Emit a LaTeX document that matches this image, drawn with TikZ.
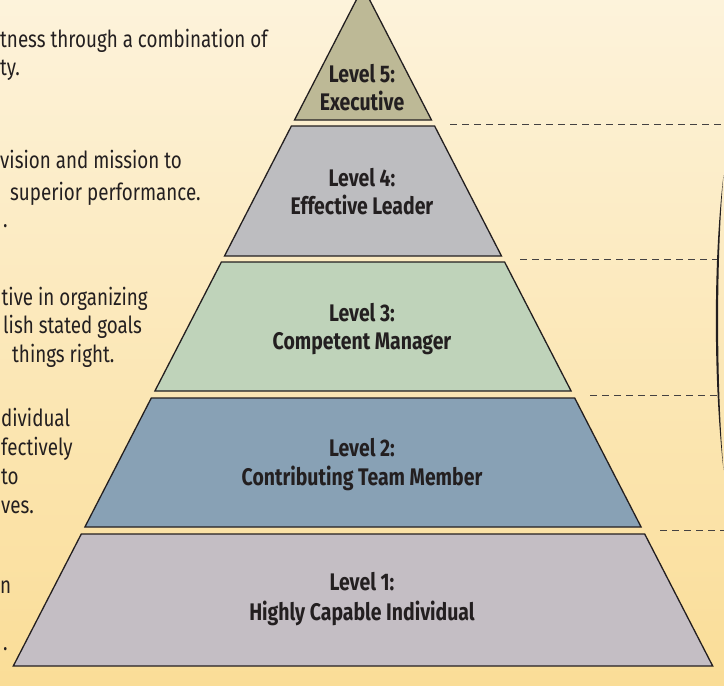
\documentclass[tikz,border=0pt]{standalone}
\usepackage{fontspec}
\setmainfont{Fira Sans}
\newfontfamily\lblfont[FakeStretch=0.81]{Fira Sans}
\newfontfamily\sidefont[FakeStretch=0.8]{Fira Sans}
\definecolor{bgtop}{HTML}{FDF3DB}
\definecolor{bgbot}{HTML}{FADD97}
\definecolor{ink}{HTML}{231F20}
\definecolor{cfive}{HTML}{BDB996}
\definecolor{cfour}{HTML}{BDBDC0}
\definecolor{cthree}{HTML}{BFD3BA}
\definecolor{ctwo}{HTML}{88A1B5}
\definecolor{cone}{HTML}{C4BEC4}
\tikzset{
  tier/.style={draw=ink, line width=1.3pt, line join=miter},
  lvl/.style={anchor=base, font=\lblfont\bfseries\fontsize{24}{28}\selectfont, text=ink, inner sep=0pt},
  side/.style={anchor=base west, font=\sidefont\fontsize{23.5}{28}\selectfont, text=ink, inner sep=0pt},
  guide/.style={draw=ink!85, line width=1pt, dash pattern=on 7pt off 5pt}
}
\begin{document}
\begin{tikzpicture}[x=1pt,y=-1pt]
\useasboundingbox (0,0) rectangle (724,686);
\shade[top color=bgtop, bottom color=bgbot] (0,0) rectangle (724,686);

% pyramid tiers
\filldraw[tier, fill=cfive]  (363,-13) -- (431.5,120) -- (294.5,120) -- cycle;
\filldraw[tier, fill=cfour]  (291.4,126) -- (434.6,126) -- (501.5,256) -- (224.5,256) -- cycle;
\filldraw[tier, fill=cthree] (221.4,262) -- (504.6,262) -- (571.1,391) -- (154.9,391) -- cycle;
\filldraw[tier, fill=ctwo]   (151.3,398) -- (574.7,398) -- (641.1,527) -- (84.9,527) -- cycle;
\filldraw[tier, fill=cone]   (81.3,534) -- (644.7,534) -- (712.7,666) -- (13.3,666) -- cycle;

% tier labels
\node[lvl] (l5a) at (362,82) {Level 5:};
\node[lvl] (l5b) at (362,110) {Executive};
\node[lvl] (l4a) at (362,186) {Level 4:};
\node[lvl] (l4b) at (362,214) {Effective Leader};
\node[lvl] (l3a) at (362,321) {Level 3:};
\node[lvl] (l3b) at (362,349) {Competent Manager};
\node[lvl] (l2a) at (362,456) {Level 2:};
\node[lvl] (l2b) at (362,485) {Contributing Team Member};
\node[lvl] (l1a) at (362,590) {Level 1:};
\node[lvl] (l1b) at (362,620) {Highly Capable Individual};

% dashed guides
\coordinate (g1a) at (450,124); \coordinate (g1b) at (724,124);
\coordinate (g2a) at (520,259); \coordinate (g2b) at (717,259);
\coordinate (g3a) at (590,395); \coordinate (g3b) at (718,395);
\coordinate (g4a) at (660,530); \coordinate (g4b) at (724,530);
\draw[guide] (g1a) -- (g1b);
\draw[guide] (g2a) -- (g2b);
\draw[guide] (g3a) -- (g3b);
\draw[guide] (g4a) -- (g4b);

% bracket curve
\fill[ink] (723.5,175) .. controls (713.3,260) and (713.3,380) .. (723.5,470)
           .. controls (716.3,380) and (716.3,260) .. (723.5,175) -- cycle;

% cut-off side text
\node[side] (t1) at (0,47) {tness through a combination of};
\node[side] (t2) at (0,75) {ty.};
\node[side] (t3) at (0,168) {vision and mission to};
\node[side] (t4) at (10,200) {superior performance.};
\node[side] (t5) at (3,227) {.};
\node[side] (t6) at (1.5,305) {tive in organizing};
\node[side] (t7) at (3,333) {lish stated goals};
\node[side] (t8) at (12,362) {things right.};
\node[side] (t9) at (1,426) {dividual};
\node[side] (t10) at (1,455) {fectively};
\node[side] (t11) at (1,484) {to};
\node[side] (t12) at (1,513) {ves.};
\node[side] (t13) at (0,593) {n};
\node[side] (t14) at (3,650) {.};
\end{tikzpicture}
\end{document}
